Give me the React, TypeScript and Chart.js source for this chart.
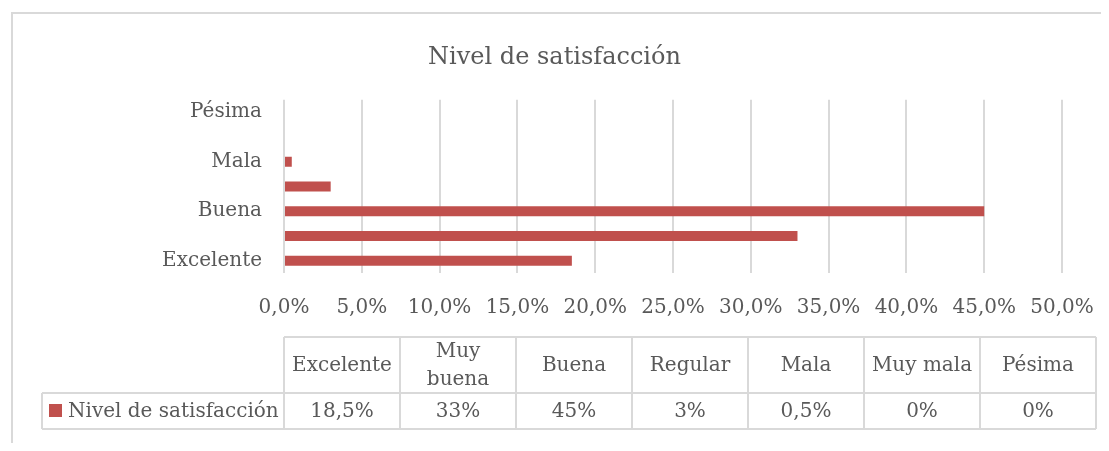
import React, { useEffect, useRef } from "react";
import { Chart, registerables } from "chart.js";

Chart.register(...registerables);

const categories = ["Excelente", "Muy buena", "Buena", "Regular", "Mala", "Muy mala", "Pésima"];
const seriesName = "Nivel de satisfacción";
const values = [18.5, 33, 45, 3, 0.5, 0, 0];
const xTicks = [0, 5, 10, 15, 20, 25, 30, 35, 40, 45, 50];

const FONT = "'DejaVu Serif', serif";
const TEXT = "#595959";
const LINE = "#D9D9D9";
const BAR = "#C0504D";

const fmtPct = (v: number) => String(v).replace(".", ",") + "%";

const framePlugin = {
  id: "frame",
  beforeDraw(chart: any) {
    const ctx = chart.ctx;
    ctx.save();
    ctx.strokeStyle = LINE;
    ctx.lineWidth = 2;
    ctx.beginPath();
    ctx.moveTo(4, chart.height + 10);
    ctx.lineTo(4, 5);
    ctx.lineTo(chart.width + 10, 5);
    ctx.stroke();
    ctx.restore();
  },
};

const tablePlugin = {
  id: "dataTable",
  afterDraw(chart: any) {
    const ctx = chart.ctx;
    const area = chart.chartArea;
    const left = area.left;
    const right = 1088;
    const n = categories.length;
    const colW = (right - left) / n;
    const top = 329;
    const mid = 385;
    const bottom = 421;
    const legendLeft = 34;
    ctx.save();
    ctx.strokeStyle = LINE;
    ctx.lineWidth = 2;
    ctx.beginPath();
    ctx.moveTo(left, top);
    ctx.lineTo(right, top);
    ctx.moveTo(legendLeft, mid);
    ctx.lineTo(right, mid);
    ctx.moveTo(legendLeft, bottom);
    ctx.lineTo(right, bottom);
    ctx.moveTo(legendLeft, mid);
    ctx.lineTo(legendLeft, bottom);
    for (let i = 0; i <= n; i++) {
      const x = left + i * colW;
      ctx.moveTo(x, top);
      ctx.lineTo(x, bottom);
    }
    ctx.stroke();

    ctx.fillStyle = TEXT;
    ctx.font = "20px " + FONT;
    ctx.textAlign = "center";
    ctx.textBaseline = "middle";
    const headY = (top + mid) / 2 + 1;
    const valY = (mid + bottom) / 2 + 1;
    categories.forEach((c, i) => {
      const cx = left + (i + 0.5) * colW;
      const w = ctx.measureText(c).width;
      if (w > colW - 10 && c.includes(" ")) {
        const words = c.split(" ");
        const lh = 28;
        const startY = headY - ((words.length - 1) * lh) / 2;
        words.forEach((wd, j) => ctx.fillText(wd, cx, startY + j * lh));
      } else {
        ctx.fillText(c, cx, headY);
      }
      ctx.fillText(fmtPct(values[i]), cx, valY);
    });

    ctx.fillStyle = BAR;
    ctx.fillRect(41, 396, 13, 13);
    ctx.fillStyle = TEXT;
    ctx.textAlign = "left";
    ctx.fillText(seriesName, 60, valY);
    ctx.restore();
  },
};

export default function App() {
  const ref = useRef<HTMLCanvasElement>(null);
  useEffect(() => {
    if (!ref.current) return;
    const chart = new Chart(ref.current, {
      type: "bar",
      data: {
        labels: categories,
        datasets: [
          {
            label: seriesName,
            data: values,
            backgroundColor: BAR,
            barThickness: 10,
            inflateAmount: 0,
          },
        ],
      },
      options: {
        indexAxis: "y",
        animation: false,
        responsive: true,
        maintainAspectRatio: false,
        layout: { padding: { left: 0, right: 8, top: 0, bottom: 128 } },
        plugins: {
          legend: { display: false },
          tooltip: { enabled: false },
          title: {
            display: true,
            text: seriesName,
            color: TEXT,
            font: { family: FONT, size: 24, weight: "normal" },
            padding: { top: 35, bottom: 28 },
          },
        },
        scales: {
          x: {
            min: 0,
            max: 50,
            afterBuildTicks(scale: any) {
              scale.ticks = xTicks.map((v) => ({ value: v }));
            },
            afterFit(scale: any) {
              scale.height = 50;
              scale.paddingLeft = 0;
              scale.paddingRight = 47;
            },
            grid: { color: LINE, lineWidth: 2, drawTicks: false },
            border: { display: false },
            ticks: {
              color: TEXT,
              font: { family: FONT, size: 20 },
              padding: 23,
              maxRotation: 0,
              autoSkip: false,
              callback: (v: any) => Number(v).toFixed(1).replace(".", ",") + "%",
            },
          },
          y: {
            reverse: true,
            afterFit(scale: any) {
              scale.width = 276;
            },
            grid: { display: false, drawTicks: false },
            border: { display: false },
            ticks: {
              color: TEXT,
              font: { family: FONT, size: 20 },
              padding: 22,
              autoSkip: false,
              callback: function (this: any, v: any, i: number) {
                return i % 2 === 0 ? this.getLabelForValue(v) : "";
              },
            },
          },
        },
      },
      plugins: [framePlugin, tablePlugin],
    });
    return () => chart.destroy();
  }, []);
  return (
    <div
      style={{
        width: 1101,
        height: 443,
        marginRight: -8,
        marginBottom: -8,
        position: "relative",
      }}
    >
      <canvas ref={ref} />
    </div>
  );
}
